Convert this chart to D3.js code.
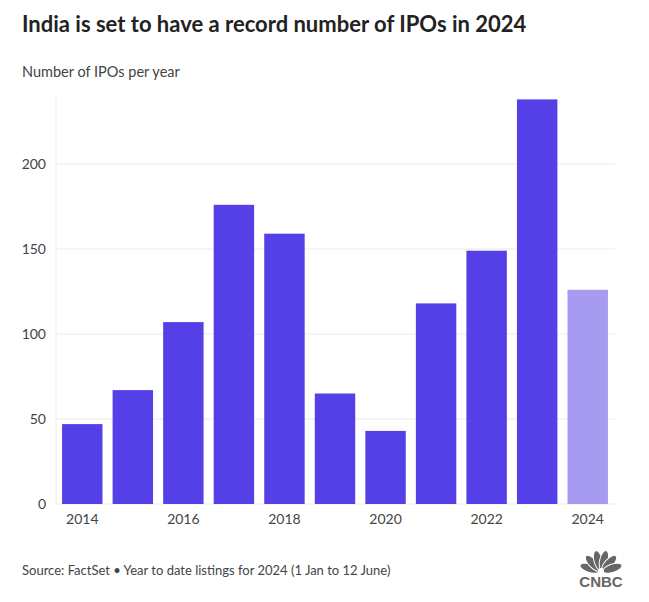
<!DOCTYPE html>
<html><head><meta charset="utf-8">
<script src="https://cdn.jsdelivr.net/npm/d3@7"></script>
<style>body{margin:0;background:#fff;font-family:"Source Sans Pro",Lato,"Noto Sans",sans-serif;}</style>
</head><body><svg id="c" width="649" height="602"></svg>
<script>
const years = [2014,2015,2016,2017,2018,2019,2020,2021,2022,2023,2024];
const ipos = [47,67,107,176,159,65,43,118,149,238,126];
const yTicks = [0,50,100,150,200];
const xTickLabels = [2014,2016,2018,2020,2022,2024];

const svg = d3.select("#c");
svg.append("rect").attr("width",649).attr("height",602).attr("fill","#fff");
svg.append("text").attr("x",22).attr("y",32).attr("font-size",22).attr("font-weight",700)
  .attr("fill","#222").attr("font-family","Lato, sans-serif").text("India is set to have a record number of IPOs in 2024");
svg.append("text").attr("x",22).attr("y",77).attr("font-size",14.5).attr("fill","#444")
  .attr("font-family","Lato, sans-serif").text("Number of IPOs per year");

const x = d3.scaleBand().domain(years).range([57,613]).paddingInner(0.2).paddingOuter(0.1);
const y = d3.scaleLinear().domain([0,240]).range([504,96]);

const g = svg.append("g");
g.selectAll("line.h").data(yTicks).enter().append("line")
  .attr("x1",56).attr("x2",615).attr("y1",d=>y(d)).attr("y2",d=>y(d))
  .attr("stroke","#ebebeb").attr("stroke-width",1);
g.append("line").attr("x1",56).attr("x2",56).attr("y1",y(240)).attr("y2",y(0))
  .attr("stroke","#ebebeb");

g.selectAll("rect.bar").data(years).enter().append("rect")
  .attr("x",d=>x(d)).attr("width",x.bandwidth())
  .attr("y",(d,i)=>y(ipos[i])).attr("height",(d,i)=>y(0)-y(ipos[i]))
  .attr("fill",d=>d===2024?"#a69bf0":"#5540e8");

const yAxis = d3.axisLeft(y).tickValues(yTicks).tickSize(0).tickPadding(0);
const ya = svg.append("g").attr("transform","translate(46,0)").call(yAxis);
ya.select(".domain").remove();
ya.selectAll("text").attr("font-size",14).attr("fill","#444").attr("font-family","Lato, sans-serif");

const xAxis = d3.axisBottom(x).tickValues(xTickLabels).tickSize(0).tickPadding(0);
const xa = svg.append("g").attr("transform","translate(0,514)").call(xAxis);
xa.select(".domain").remove();
xa.selectAll("text").attr("font-size",14).attr("fill","#444").attr("font-family","Lato, sans-serif");

svg.append("text").attr("x",22).attr("y",575).attr("font-size",13).attr("fill","#444")
  .attr("font-family","Lato, sans-serif").text("Source: FactSet \u2022 Year to date listings for 2024 (1 Jan to 12 June)");

// CNBC logo
const logo = svg.append("g").attr("transform","translate(601,572)");
const feathers = [-72,-43,-14,14,43,72];
feathers.forEach(a=>{
  logo.append("ellipse").attr("cx",0).attr("cy",-12).attr("rx",4.2).attr("ry",10)
    .attr("fill","#666").attr("stroke","#fff").attr("stroke-width",1).attr("transform",`rotate(${a})`);
});
logo.append("circle").attr("cx",0).attr("cy",-1).attr("r",3).attr("fill","#fff");
svg.append("text").attr("x",601).attr("y",587).attr("text-anchor","middle").attr("font-size",15)
  .attr("font-weight",700).attr("fill","#666").attr("font-family","Liberation Sans Narrow, Arial Narrow, sans-serif").text("CNBC");
</script></body></html>
